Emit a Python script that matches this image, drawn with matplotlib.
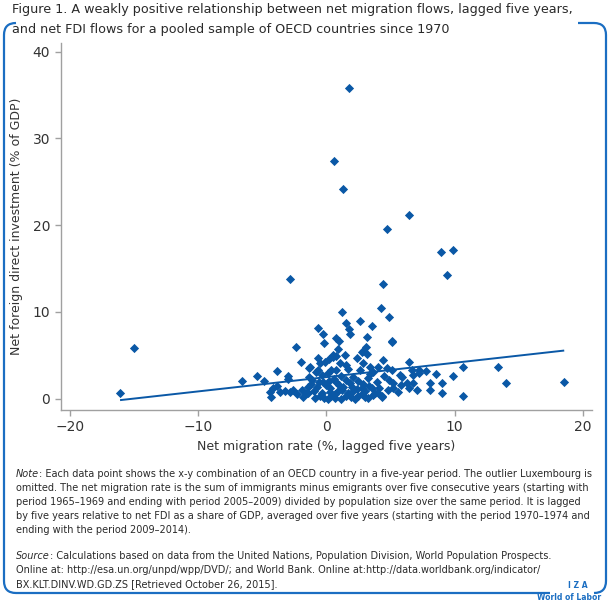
import matplotlib
matplotlib.use("Agg")
import matplotlib.pyplot as plt
from matplotlib.path import Path
from matplotlib.patches import PathPatch

plt.rcParams['font.family'] = ['Liberation Sans Narrow', 'DejaVu Sans']

# data (net migration %, net FDI % of GDP)
mig = [1.73, 0.61, 1.26, 6.43, 4.69, 8.92, 9.86, 9.39, -2.82, 4.43, 4.25, 4.9, 1.23, 2.61,
       1.57, 1.78, 1.83, 3.52, -0.64, -0.25, -0.19, 0.79, 1.0, 3.18, 5.13, 3.08, 2.82, 0.87,
       -2.38, -15.0, -16.07, 18.5, 13.97, 13.34, 10.64, 10.64, 9.88, 9.03, 8.56, 7.75, 8.98, 8.07,
       -6.59, -5.42, -4.85, -3.83, -3.0, -3.02, -1.96, -1.34, -0.77, -0.12,
       -4.15, -3.88, -4.4, -4.35, -3.62, -3.23, -2.84, -2.63, -2.32, -1.93, -1.85, -1.5, -1.42, -1.36,
       2.79, 3.16, 0.79, 0.53, 1.44, 2.35, -0.5, 0.2, 1.05, 2.87, 3.39, 3.99, -1.29, -0.64, 0.4,
       1.7, 2.61, 3.65, -0.37, 0.14, 1.18, 2.09, 3.26, -1.15, -0.25, 0.79, 1.83, 2.87, 3.91,
       -0.76, 0.27, 1.31, 2.35, 3.52, -1.42, -0.37, 0.66, 1.7, 2.74, 3.78, -0.9, 0.14, 1.18,
       2.22, 3.26, 4.3,
       -0.5, 0.4, 0.9, 1.5, 2.0, 2.5, 3.0, 3.6, -1.0, 0.0, 0.6, 1.5, 2.5, 3.3, -0.2, 1.0, 2.0,
       4.1, 4.5, 0.3, 1.2, 2.8, -0.6, 1.9, 3.0, 0.7, -1.2, 0.2, 4.0, 3.4,
       5.08, 4.43, 6.45, 4.69, 5.08, 6.64, 7.23, 7.23, 5.73, 5.86, 6.77, 4.9, 5.21, 5.78, 6.25,
       6.77, 8.07, 5.21, 5.6, 6.45, 7.08, 4.3, 4.82,
       -0.64, 0.53, 0.79, 1.57]
fdi = [35.8, 27.4, 24.15, 21.2, 19.6, 16.9, 17.15, 14.27, 13.77, 13.2, 10.43, 9.39, 9.96, 9.0,
       8.7, 8.0, 7.5, 8.39, 8.12, 7.46, 6.46, 6.97, 6.7, 7.15, 6.62, 6.0, 5.5, 5.7,
       6.0, 5.8, 0.7, 1.89, 1.81, 3.66, 3.62, 0.35, 2.62, 1.78, 2.81, 3.19, 0.62, 1.0,
       2.1, 2.6, 2.0, 3.23, 2.6, 2.27, 4.25, 3.5, 3.1, 4.27,
       1.2, 1.46, 0.81, 0.23, 0.74, 0.92, 0.74, 1.0, 0.54, 1.0, 0.16, 0.62, 1.38, 2.54,
       5.42, 5.16, 4.93, 4.85, 5.04, 4.66, 4.15, 4.54, 4.15, 4.15, 3.69, 3.69, 3.69, 3.31, 3.31,
       3.39, 3.31, 3.11, 2.73, 2.93, 2.62, 2.54, 2.35, 2.16, 1.96, 1.96, 1.78, 1.7, 1.96,
       1.38, 1.2, 1.38, 1.08, 1.2, 0.62, 0.62, 0.54, 0.62, 0.54, 0.69, 0.04, -0.07, -0.07,
       -0.07, 0.04, 0.16,
       0.3, 0.3, 0.9, 0.3, 0.8, 0.3, 0.9, 0.4, 0.9, 1.6, 2.3, 2.2, 2.0, 1.5, 0.1, 1.6, 1.4,
       1.2, 2.6, 0.8, 1.0, 1.2, 1.9, 0.2, 0.2, 0.1, 1.7, 2.0, 0.7, 2.8,
       6.58, 4.46, 4.23, 3.5, 3.31, 3.31, 3.31, 2.93, 2.73, 2.47, 2.73, 2.16, 1.85, 1.58, 1.78,
       1.85, 1.78, 1.2, 0.81, 1.2, 1.0, 0.31, 1.0,
       4.66, 5.04, 3.31, 3.89]

# fitted line end points
fit_x = [-16.0, 18.46]
fit_y = [-0.15, 5.54]

blue = '#0a58a6'
frame_blue = '#1b6ec2'
grey = '#a0a0a0'
dark = '#2a2a2a'
W, H = 608, 605

fig = plt.figure(figsize=(6.08, 6.05), dpi=100)
ax = fig.add_axes([60.7 / W, 1 - 410 / H, (592 - 60.7) / W, (410 - 43) / H])

ax.scatter(mig, fdi, marker='D', s=22, color=blue, linewidths=0, zorder=3)
ax.plot(fit_x, fit_y, color=blue, lw=1.4, zorder=2)

ax.set_xlim(-20.7, 20.7)
ax.set_ylim(-1.3, 41)
ax.set_xticks([-20, -10, 0, 10, 20])
ax.set_xticklabels(['\u221220', '\u221210', '0', '10', '20'])
ax.set_yticks([0, 10, 20, 30, 40])
for s in ['top', 'right']:
    ax.spines[s].set_visible(False)
for s in ['left', 'bottom']:
    ax.spines[s].set_color(grey)
    ax.spines[s].set_linewidth(1.0)
ax.tick_params(colors=grey, labelcolor='#333333', labelsize=10, length=4, width=1)
ax.set_xlabel('Net migration rate (%, lagged five years)', fontsize=9, color='#333333', labelpad=4)
ax.set_ylabel('Net foreign direct investment (% of GDP)', fontsize=9, color='#333333', labelpad=7)


def px(x, y):
    return (x / W, 1 - y / H)


# title
fig.text(*px(12, 10), 'Figure 1. A weakly positive relationship between net migration flows, lagged five years,',
         fontsize=9.2, color=dark, va='center', ha='left')
fig.text(*px(12, 29), 'and net FDI flows for a pooled sample of OECD countries since 1970',
         fontsize=9.2, color=dark, va='center', ha='left')

# notes
note_lines = [
    ': Each data point shows the x-y combination of an OECD country in a five-year period. The outlier Luxembourg is',
    'omitted. The net migration rate is the sum of immigrants minus emigrants over five consecutive years (starting with',
    'period 1965\u20131969 and ending with period 2005\u20132009) divided by population size over the same period. It is lagged',
    'by five years relative to net FDI as a share of GDP, averaged over five years (starting with the period 1970\u20131974 and',
    'ending with the period 2009\u20132014).',
]
source_lines = [
    ': Calculations based on data from the United Nations, Population Division, World Population Prospects.',
    'Online at: http://esa.un.org/unpd/wpp/DVD/; and World Bank. Online at:http://data.worldbank.org/indicator/',
    'BX.KLT.DINV.WD.GD.ZS [Retrieved October 26, 2015].',
]
fs = 7.0
step = 14.0
y0 = 479
ys = 561


def block(label, lines, ytop):
    t = fig.text(*px(16, ytop), label, fontsize=fs, style='italic', color=dark, va='bottom')
    ax.annotate(lines[0], xy=(1, 0), xycoords=t, fontsize=fs, color=dark, va='bottom', ha='left',
                annotation_clip=False)
    for i, line in enumerate(lines[1:], start=1):
        fig.text(*px(16, ytop + i * step), line, fontsize=fs, color=dark, va='bottom')


block('Note', note_lines, y0)
block('Source', source_lines, ys)

# frame
c = 12
verts1 = [(578, 23), (606 - c, 23), (606, 23), (606, 23 + c), (606, 593 - c), (606, 593), (606 - c, 593)]
codes1 = [Path.MOVETO, Path.LINETO, Path.CURVE3, Path.CURVE3, Path.LINETO, Path.CURVE3, Path.CURVE3]
verts2 = [(16, 23), (4, 23), (4, 23 + c), (4, 593 - c), (4, 593), (4 + c, 593), (550, 593)]
codes2 = [Path.MOVETO, Path.CURVE3, Path.CURVE3, Path.LINETO, Path.CURVE3, Path.CURVE3, Path.LINETO]
for verts, codes in [(verts1, codes1), (verts2, codes2)]:
    p = Path([px(x, y) for x, y in verts], codes)
    fig.add_artist(PathPatch(p, fill=False, edgecolor=frame_blue, lw=1.6, transform=fig.transFigure))

# logo
fig.text(*px(578, 586), 'I Z A', fontsize=5.5, weight='bold', color=frame_blue, va='center', ha='center')
fig.text(*px(601, 597), 'World of Labor', fontsize=5.5, weight='bold', color=frame_blue, va='center', ha='right')

fig.savefig('out.png', dpi=100)
